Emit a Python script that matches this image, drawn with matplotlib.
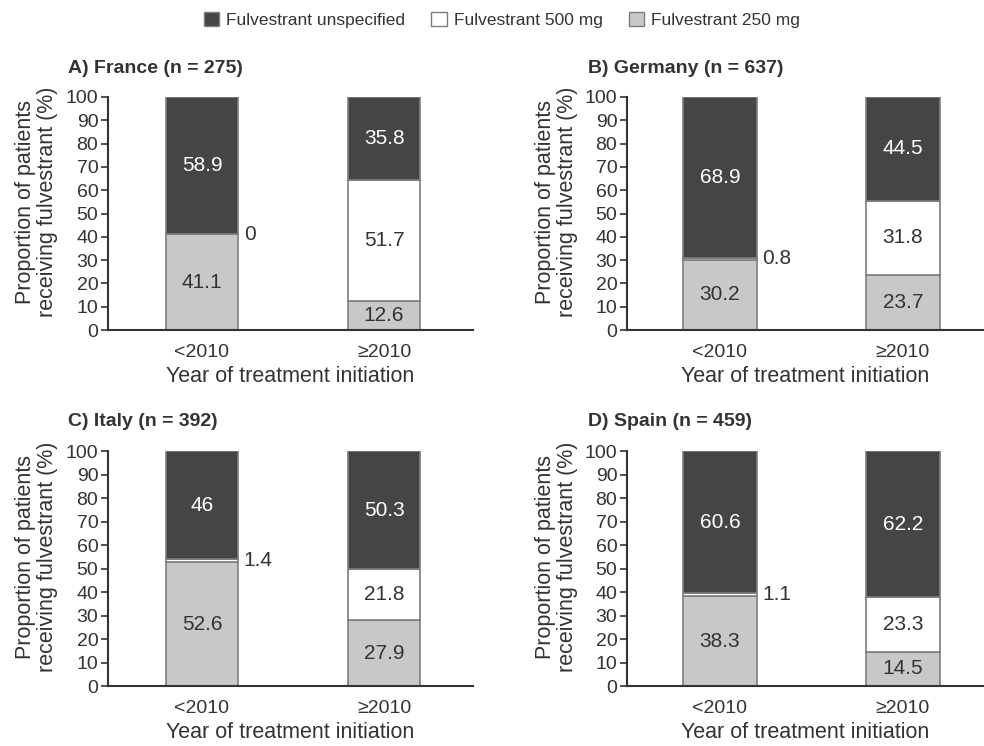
import matplotlib.pyplot as plt
from matplotlib.patches import Patch

plt.rcParams["font.family"] = ["Liberation Sans", "DejaVu Sans"]

periods = ["<2010", "≥2010"]
countries = ["A) France (n = 275)", "B) Germany (n = 637)",
             "C) Italy (n = 392)", "D) Spain (n = 459)"]
dose_250 = [[41.1, 12.6], [30.2, 23.7], [52.6, 27.9], [38.3, 14.5]]
dose_500 = [[0, 51.7], [0.8, 31.8], [1.4, 21.8], [1.1, 23.3]]
unspecified = [[58.9, 35.8], [68.9, 44.5], [46, 50.3], [60.6, 62.2]]

DARK = "#454548"
GREY = "#c8c8c9"
EDGE = "#7d7d7d"
TXT = "#333333"

fig = plt.figure(figsize=(9.84, 7.46), dpi=100)
boxes = [
    (0.1098, 0.5576, 0.371, 0.3124),
    (0.6372, 0.5576, 0.3628, 0.3124),
    (0.1098, 0.0804, 0.371, 0.315),
    (0.6372, 0.0804, 0.3628, 0.315),
]
xlims = [(-0.516, 1.489), (-0.508, 1.443)]

for i, (title, box) in enumerate(zip(countries, boxes)):
    ax = fig.add_axes(box)
    x = [0, 1]
    w = 0.40
    lo = dose_250[i]
    mid = dose_500[i]
    hi = unspecified[i]
    ax.bar(x, lo, w, color=GREY, edgecolor=EDGE, linewidth=1.2)
    ax.bar(x, mid, w, bottom=lo, color="white", edgecolor=EDGE, linewidth=1.2)
    base = [a + b for a, b in zip(lo, mid)]
    ax.bar(x, hi, w, bottom=base, color=DARK, edgecolor=EDGE, linewidth=1.2)

    for j in x:
        ax.text(j, lo[j] / 2, f"{lo[j]:g}", ha="center", va="center",
                color=TXT, fontsize=15)
        if mid[j] < 5:
            # thin slices get their value beside the bar
            ax.text(j + w / 2 + 0.03, lo[j] + mid[j] / 2, f"{mid[j]:g}",
                    ha="left", va="center", color=TXT, fontsize=15)
        else:
            ax.text(j, lo[j] + mid[j] / 2, f"{mid[j]:g}", ha="center",
                    va="center", color=TXT, fontsize=15)
        ax.text(j, base[j] + hi[j] / 2, f"{hi[j]:g}", ha="center",
                va="center", color="white", fontsize=15)

    ax.set_xlim(*xlims[i % 2])
    ax.set_ylim(0, 100)
    ax.set_yticks(range(0, 101, 10))
    ax.set_xticks(x)
    ax.set_xticklabels(periods)
    ax.tick_params(axis="x", length=0, pad=10, labelsize=14, labelcolor=TXT)
    ax.tick_params(axis="y", length=5, width=1.2, color=TXT, pad=2,
                   labelsize=14, labelcolor=TXT)
    for s in ["top", "right"]:
        ax.spines[s].set_visible(False)
    for s in ["left", "bottom"]:
        ax.spines[s].set_linewidth(1.5)
        ax.spines[s].set_color(TXT)
    ax.set_ylabel("Proportion of patients\nreceiving fulvestrant (%)",
                  fontsize=15.5, color=TXT, linespacing=1.05)
    ax.yaxis.set_label_coords(-0.138, 0.55)
    ax.set_xlabel("Year of treatment initiation", fontsize=15.5, color=TXT,
                  labelpad=4)
    ax.text(-0.11, 1.124, title, transform=ax.transAxes, ha="left",
            va="center", fontsize=14, fontweight="bold", color=TXT)

handles = [
    Patch(facecolor=DARK, edgecolor=EDGE, label="Fulvestrant unspecified"),
    Patch(facecolor="white", edgecolor=EDGE, label="Fulvestrant 500 mg"),
    Patch(facecolor=GREY, edgecolor=EDGE, label="Fulvestrant 250 mg"),
]
fig.legend(handles=handles, loc="center", bbox_to_anchor=(0.51, 0.973),
           ncol=3, frameon=False, fontsize=12.5, handlelength=0.9,
           handleheight=0.9, handletextpad=0.4, columnspacing=1.5,
           labelcolor=TXT)

fig.savefig("out.png", dpi=100)
